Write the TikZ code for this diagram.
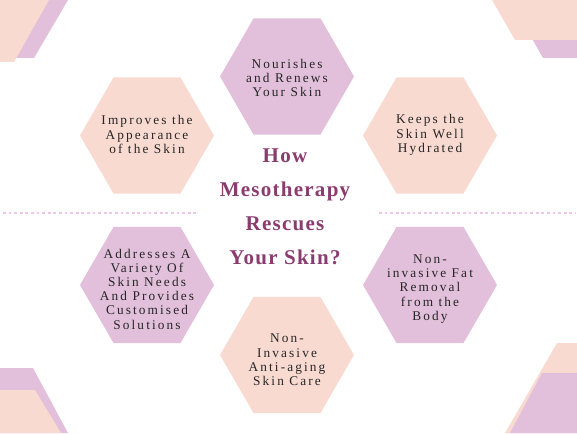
\documentclass[tikz,border=0pt]{standalone}
\usepackage{fontspec}
\setmainfont{Liberation Serif}
\newfontfamily\hexfont[LetterSpace=16]{Liberation Serif}
\newfontfamily\titlefont[LetterSpace=6]{Liberation Serif}
\usetikzlibrary{shapes.geometric}
\definecolor{peach}{HTML}{F8DAD1}
\definecolor{lilac}{HTML}{E2BFDA}
\definecolor{plum}{HTML}{8A3C6E}
\definecolor{ink}{HTML}{262626}
\definecolor{dotpink}{HTML}{F0C6E6}
\tikzset{
  hexbase/.style={regular polygon, regular polygon sides=6, minimum size=134pt, inner sep=0pt, outer sep=0pt, draw=none},
  hexP/.style={hexbase, fill=peach},
  hexL/.style={hexbase, fill=lilac},
  hextext/.style={text=ink, align=center, font=\hexfont\fontsize{13.3}{14.2}\selectfont, inner sep=0pt},
  titletext/.style={text=plum, align=center, font=\titlefont\bfseries\fontsize{21}{34}\selectfont, inner sep=0pt},
  dotline/.style={draw=dotpink, line width=2.8pt, dash pattern=on 2.8pt off 2.8pt}
}
\begin{document}
\begin{tikzpicture}[x=1pt,y=-1pt]
\useasboundingbox (0,0) rectangle (577,433);
% corner decorations
\fill[lilac] (0,0) -- (68,0) -- (34,58) -- (0,58) -- cycle;
\fill[peach] (0,0) -- (49,0) -- (14,62) -- (0,62) -- cycle;
\fill[lilac] (510,0) -- (577,0) -- (577,58) -- (543,58) -- cycle;
\fill[peach] (492,0) -- (577,0) -- (577,40) -- (515,40) -- cycle;
\fill[lilac] (0,368) -- (33,368) -- (68,433) -- (0,433) -- cycle;
\fill[peach] (0,390) -- (35,390) -- (61,433) -- (0,433) -- cycle;
\fill[peach] (557,343) -- (577,343) -- (577,433) -- (505,433) -- cycle;
\fill[lilac] (542,373) -- (577,373) -- (577,433) -- (510,433) -- cycle;
% dotted lines
\coordinate (dl1) at (3,213);
\coordinate (dl2) at (197,213);
\coordinate (dr1) at (379,213);
\coordinate (dr2) at (576,213);
\draw[dotline] (dl1) -- (dl2);
\draw[dotline] (dr1) -- (dr2);
% hexagons
\node[hexL] (htop) at (287,76.5) {};
\node[hexP] (hul) at (147,135.5) {};
\node[hexP] (hur) at (430,135.5) {};
\node[hexL] (hll) at (147,285) {};
\node[hexL] (hlr) at (430,285) {};
\node[hexP] (hbot) at (287,355) {};
% texts
\node[hextext] (ttop) at (287,78) {Nourishes\\and Renews\\Your Skin};
\node[hextext] (tul) at (147,134.5) {Improves the\\Appearance\\of the Skin};
\node[hextext] (tur) at (430,135) {Keeps the\\Skin Well\\Hydrated};
\node[hextext] (tll) at (147,289) {Addresses A\\Variety Of\\Skin Needs\\And Provides\\Customised\\Solutions};
\node[hextext] (tlr) at (430,289) {Non-\\invasive Fat\\Removal\\from the\\Body};
\node[hextext] (tbot) at (287,360) {Non-\\Invasive\\Anti-aging\\Skin Care};
\node[titletext] (title) at (285,207) {How\\Mesotherapy\\Rescues\\Your Skin?};
\end{tikzpicture}
\end{document}
